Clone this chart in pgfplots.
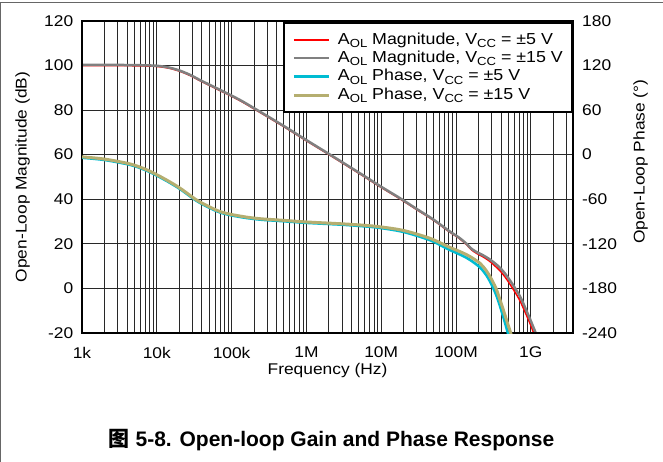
\documentclass[border=0pt]{standalone}
\usepackage{fontspec}
\setmainfont{Liberation Sans}[FakeStretch=1.12]
\newfontfamily\capfont{Liberation Sans}
\newfontfamily\cjk{Noto Sans CJK SC}
\usepackage{pgfplots}
\pgfplotsset{compat=1.18}

\definecolor{magfive}{RGB}{255,0,0}
\definecolor{magfifteen}{RGB}{128,128,128}
\definecolor{phfive}{RGB}{0,188,210}
\definecolor{phfifteen}{RGB}{181,174,112}
\definecolor{gridc}{RGB}{40,40,40}

\newcommand\chartfont{\fontsize{15.5}{18}\selectfont}
\newcommand\legfont{\fontsize{15.9}{19}\selectfont}
\newcommand\sub[1]{\raisebox{-0.2em}{\fontsize{11.7}{12}\selectfont #1}}

\begin{document}
\begin{tikzpicture}
\useasboundingbox (0,0) rectangle (663pt,462pt);

% magnitude axis (left)
\begin{axis}[
  scale only axis, width=491.3pt, height=312.5pt,
  at={(82pt,128.8pt)}, anchor=south west,
  xmode=log, xmin=1e3, xmax=3.7e9,
  axis line style={line width=2pt, black},
  major tick length=0pt, minor tick length=0pt,
  tick label style={font=\chartfont, inner sep=0pt},
  ymin=-20, ymax=120,
  ytick={-20,0,20,40,60,80,100,120},
  yticklabels={-20,0,20,40,60,80,100,120},
  xtick={1e3,1e4,1e5,1e6,1e7,1e8,1e9},
  xticklabels={1k,10k,100k,1M,10M,100M,1G},
  minor xtick={2e3,3e3,4e3,5e3,6e3,7e3,8e3,9e3,
    2e4,3e4,4e4,5e4,6e4,7e4,8e4,9e4,
    2e5,3e5,4e5,5e5,6e5,7e5,8e5,9e5,
    2e6,3e6,4e6,5e6,6e6,7e6,8e6,9e6,
    2e7,3e7,4e7,5e7,6e7,7e7,8e7,9e7,
    2e8,3e8,4e8,5e8,6e8,7e8,8e8,9e8,
    2e9,3e9},
  xmajorgrids, xminorgrids, ymajorgrids,
  grid style={gridc, line width=0.9pt},
  minor grid style={gridc, line width=0.9pt},
  yticklabel style={xshift=-8.6pt},
  xticklabel style={yshift=-13.5pt},
]
\addplot[magfive, line width=1.5pt, smooth] coordinates {
(1e3,99.9)(2e3,99.9)(5e3,99.8)(1e4,99.5)(1.5e4,98.6)(2.04e4,97.3)
(2.8e4,95.4)(3.78e4,93.1)(5e4,91.1)(7e4,88.7)(1.29e5,84.2)(2.4e5,78.9)
(5e5,72.5)(1e6,66.2)(2.07e6,59.7)(5e6,51.7)(1e7,45.3)(1.78e7,40.2)
(3e7,35.3)(5e7,30.6)(8e7,25.6)(1.1e8,22.5)(1.39e8,19.6)(1.6e8,17.4)
(1.9e8,15.7)(2.3e8,14.2)(2.85e8,12.1)(3.4e8,9.8)(3.87e8,8)(4.5e8,5.3)
(5.3e8,1.8)(6.2e8,-1.8)(7.17e8,-5.5)(8.5e8,-11)(1e9,-16.5)(1.12e9,-21)
};
\addplot[magfifteen, line width=2.5pt, smooth] coordinates {
(1e3,100.2)(2e3,100.2)(5e3,100.1)(1e4,99.8)(1.5e4,98.9)(2.04e4,97.6)
(2.8e4,95.7)(3.78e4,93.4)(5e4,91.4)(7e4,89)(1.29e5,84.5)(2.4e5,79.2)
(5e5,72.8)(1e6,66.5)(2.07e6,60)(5e6,52)(1e7,45.6)(1.78e7,40.5)
(3e7,35.6)(5e7,30.9)(8e7,25.9)(1.1e8,22.8)(1.39e8,20)(1.6e8,17.9)
(1.9e8,16.3)(2.3e8,14.9)(2.85e8,13)(3.4e8,11)(3.87e8,9.3)(4.5e8,6.8)
(5.3e8,3.5)(6.2e8,0)(7.3e8,-4)(8.5e8,-9)(1e9,-14.5)(1.15e9,-19.5)(1.2e9,-21)
};
\end{axis}

% phase axis (right)
\begin{axis}[
  scale only axis, width=491.3pt, height=312.5pt,
  at={(82pt,128.8pt)}, anchor=south west,
  xmode=log, xmin=1e3, xmax=3.7e9,
  axis line style={line width=2pt, black},
  major tick length=0pt, minor tick length=0pt,
  tick label style={font=\chartfont, inner sep=0pt},
  ymin=-240, ymax=180,
  ytick={-240,-180,-120,-60,0,60,120,180},
  yticklabels={-240,-180,-120,-60,0,60,120,180},
  yticklabel pos=right,
  xtick=\empty, minor xtick={},
  yticklabel style={xshift=8.7pt},
  legend cell align=left,
  legend image code/.code={\draw[#1] (0pt,0pt) -- (35pt,0pt);},
  legend style={at={(1,0.997)}, anchor=north east, draw=black, line width=2pt,
    fill=white, inner sep=8pt, row sep=0pt, column sep=6pt,
    font=\legfont, nodes={inner sep=1.5pt, text height=12pt, text depth=3.4pt}},
]
\addlegendimage{magfive, line width=2pt}
\addlegendentry{A\sub{OL} Magnitude, V\sub{CC} = ±5 V}
\addlegendimage{magfifteen, line width=2.2pt}
\addlegendentry{A\sub{OL} Magnitude, V\sub{CC} = ±15 V}
\addplot[phfive, line width=2.6pt, smooth] coordinates {
(1e3,-4.2)(2e3,-7.2)(4.38e3,-13.7)(7e3,-20.7)(1e4,-28.2)(1.4e4,-36.2)
(2.04e4,-46.2)(3.41e4,-62.2)(5e4,-71.2)(7e4,-77.7)(1e5,-81.7)(1.59e5,-85.2)
(2.5e5,-87.5)(4.44e5,-89.2)(1e6,-91.7)(3e6,-94.2)(6e6,-96.4)(9.64e6,-98.5)
(2e7,-104)(4.49e7,-115)(8e7,-127.5)(1.2e8,-135.5)(1.54e8,-141.5)(2.09e8,-151.5)
(2.5e8,-161)(2.85e8,-170.5)(3.4e8,-187)(3.87e8,-203.5)(4.3e8,-218.5)(4.76e8,-234)(5.1e8,-245)
};
\addlegendentry{A\sub{OL} Phase, V\sub{CC} = ±5 V}
\addplot[phfifteen, line width=3pt, smooth] coordinates {
(1e3,-3)(2e3,-6)(4.38e3,-12.5)(7e3,-19.5)(1e4,-27)(1.4e4,-35)
(2.04e4,-45)(3.41e4,-61)(5e4,-70)(7e4,-76.5)(1e5,-80.5)(1.59e5,-84)
(2.5e5,-86.3)(4.44e5,-88)(1e6,-90.5)(3e6,-93)(6e6,-95)(9.64e6,-97)
(2e7,-102)(4.49e7,-112.5)(8e7,-124)(1.2e8,-131.5)(1.54e8,-137)(2.09e8,-146)
(2.5e8,-155)(2.85e8,-164)(3.4e8,-179)(3.87e8,-195)(4.3e8,-209)(4.76e8,-223)(5.2e8,-235)(5.55e8,-244)
};
\addlegendentry{A\sub{OL} Phase, V\sub{CC} = ±15 V}
\end{axis}

% axis titles and caption
\node[rotate=90, anchor=base, font=\chartfont] at (26.5pt,285pt) {Open-Loop Magnitude (dB)};
\node[rotate=90, anchor=base, font=\chartfont] at (644.5pt,300.3pt) {Open-Loop Phase (°)};
\node[anchor=base, font=\chartfont] at (327.5pt,87pt) {Frequency (Hz)};
\node[anchor=base, font=\capfont\bfseries\fontsize{21}{25}\selectfont] at (331.5pt,15.3pt)
  {{\cjk\bfseries 图} 5-8. Open-loop Gain and Phase Response};

% page frame
\draw[black!60, line width=1pt] (0.7pt,-10pt) -- (0.7pt,459.3pt) -- (680pt,459.3pt);
\end{tikzpicture}
\end{document}
